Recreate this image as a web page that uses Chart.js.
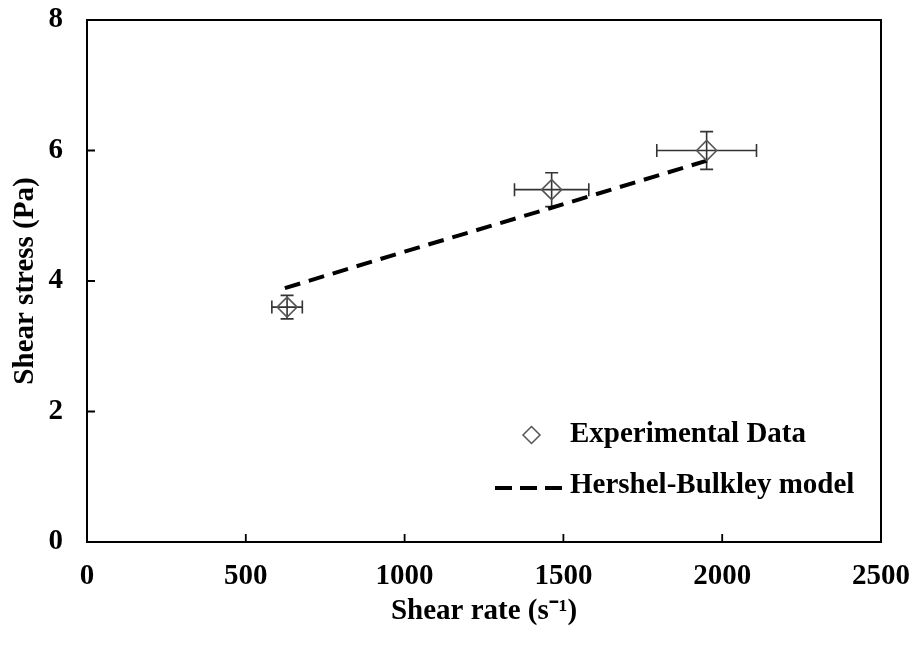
<!DOCTYPE html>
<html>
<head>
<meta charset="utf-8">
<script src="https://cdn.jsdelivr.net/npm/chart.js@4/dist/chart.umd.min.js"></script>
<style>
  html, body { margin: 0; padding: 0; background: #fff; }
  #wrap { width: 915px; height: 651px; }
</style>
</head>
<body>
<div id="wrap"><canvas id="c" width="915" height="651"></canvas></div>
<script>
// ---- data ----
const shearRate   = [630, 1463, 1951];
const shearStress = [3.6, 5.4, 6.0];
const rateErr     = [48, 117, 157];
const stressErr   = [0.18, 0.26, 0.29];
const modelRate   = [623, 1000, 1468, 1955];
const modelStress = [3.89, 4.45, 5.13, 5.85];
const xTicks = [0, 500, 1000, 1500, 2000, 2500];
const yTicks = [0, 2, 4, 6, 8];
const seriesLabels = ['Experimental Data', 'Hershel-Bulkley model'];
const xTitle = 'Shear rate (s\u207B\u00B9)';
const yTitle = 'Shear stress (Pa)';

const FONT = "'Liberation Serif', 'Times New Roman', serif";

const overlay = {
  id: 'overlay',
  beforeDatasetsDraw(chart) {
    const ctx = chart.ctx, xs = chart.scales.x, ys = chart.scales.y;
    ctx.save();
    ctx.strokeStyle = '#333';
    ctx.lineWidth = 1.6;
    const cap = 6.5;
    shearRate.forEach((xv, i) => {
      const yv = shearStress[i];
      const px = xs.getPixelForValue(xv), py = ys.getPixelForValue(yv);
      const x1 = xs.getPixelForValue(xv - rateErr[i]), x2 = xs.getPixelForValue(xv + rateErr[i]);
      const y1 = ys.getPixelForValue(yv - stressErr[i]), y2 = ys.getPixelForValue(yv + stressErr[i]);
      ctx.beginPath();
      ctx.moveTo(x1, py); ctx.lineTo(x2, py);
      ctx.moveTo(x1, py - cap); ctx.lineTo(x1, py + cap);
      ctx.moveTo(x2, py - cap); ctx.lineTo(x2, py + cap);
      ctx.moveTo(px, y1); ctx.lineTo(px, y2);
      ctx.moveTo(px - cap, y1); ctx.lineTo(px + cap, y1);
      ctx.moveTo(px - cap, y2); ctx.lineTo(px + cap, y2);
      ctx.stroke();
    });
    ctx.restore();
  },
  afterDraw(chart) {
    const ctx = chart.ctx, a = chart.chartArea, xs = chart.scales.x, ys = chart.scales.y;
    ctx.save();
    // frame
    ctx.strokeStyle = '#000';
    ctx.lineWidth = 2;
    ctx.strokeRect(a.left, a.top, a.right - a.left, a.bottom - a.top);
    // inward ticks
    ctx.lineWidth = 1.8;
    ctx.beginPath();
    xTicks.forEach(v => {
      if (v <= xs.min || v >= xs.max) return;
      const px = xs.getPixelForValue(v);
      ctx.moveTo(px, a.bottom); ctx.lineTo(px, a.bottom - 8);
    });
    yTicks.forEach(v => {
      if (v <= ys.min || v >= ys.max) return;
      const py = ys.getPixelForValue(v);
      ctx.moveTo(a.left, py); ctx.lineTo(a.left + 8, py);
    });
    ctx.stroke();
    // legend
    ctx.font = 'bold 29px ' + FONT;
    ctx.fillStyle = '#000';
    ctx.textBaseline = 'middle';
    ctx.textAlign = 'left';
    const dx = 531.5, dy = 435, r = 8.5;
    ctx.strokeStyle = '#555';
    ctx.lineWidth = 1.5;
    ctx.beginPath();
    ctx.moveTo(dx - r, dy); ctx.lineTo(dx, dy - r); ctx.lineTo(dx + r, dy); ctx.lineTo(dx, dy + r); ctx.closePath();
    ctx.stroke();
    ctx.fillText(seriesLabels[0], 570, dy);
    ctx.strokeStyle = '#000';
    ctx.lineWidth = 4;
    ctx.setLineDash([17, 8]);
    ctx.beginPath();
    ctx.moveTo(495, 488); ctx.lineTo(562, 488);
    ctx.stroke();
    ctx.setLineDash([]);
    ctx.fillText(seriesLabels[1], 570, 486);
    ctx.restore();
  }
};

new Chart(document.getElementById('c'), {
  type: 'scatter',
  data: {
    datasets: [
      {
        label: seriesLabels[0],
        data: shearRate.map((x, i) => ({x, y: shearStress[i]})),
        pointStyle: 'rectRot',
        pointRadius: 10,
        pointHoverRadius: 10,
        pointBorderWidth: 1.6,
        pointBorderColor: '#555',
        pointBackgroundColor: 'rgba(0,0,0,0)',
        showLine: false
      },
      {
        label: seriesLabels[1],
        data: modelRate.map((x, i) => ({x, y: modelStress[i]})),
        showLine: true,
        borderColor: '#000',
        borderWidth: 4,
        borderDash: [16, 9],
        pointRadius: 0,
        tension: 0
      }
    ]
  },
  plugins: [overlay],
  options: {
    responsive: false,
    animation: false,
    events: [],
    layout: { padding: { left: 0, top: 20, right: 34, bottom: 0 } },
    plugins: { legend: { display: false }, tooltip: { enabled: false } },
    scales: {
      x: {
        type: 'linear',
        min: 0, max: 2500,
        afterBuildTicks: s => { s.ticks = xTicks.map(v => ({value: v})); },
        afterFit: s => { s.height = 109; s.paddingLeft = 0; s.paddingRight = 0; },
        grid: { display: false, drawTicks: false },
        border: { display: false },
        ticks: { color: '#000', padding: 17, maxRotation: 0, autoSkip: false,
                 callback: v => String(v),
                 font: { family: FONT, size: 29, weight: 'bold' } },
        title: { display: true, text: xTitle, color: '#000', padding: { top: 0, bottom: 22 },
                 font: { family: FONT, size: 29, weight: 'bold' } }
      },
      y: {
        type: 'linear',
        min: 0, max: 8,
        afterBuildTicks: s => { s.ticks = yTicks.map(v => ({value: v})); },
        afterFit: s => { s.width = 87; s.paddingTop = 0; s.paddingBottom = 0; },
        grid: { display: false, drawTicks: false },
        border: { display: false },
        ticks: { color: '#000', padding: 24, autoSkip: false,
                 callback: v => String(v),
                 font: { family: FONT, size: 29, weight: 'bold' } },
        title: { display: true, text: yTitle, color: '#000', padding: { top: 8, bottom: 0 },
                 font: { family: FONT, size: 29, weight: 'bold' } }
      }
    }
  }
});
</script>
</body>
</html>
